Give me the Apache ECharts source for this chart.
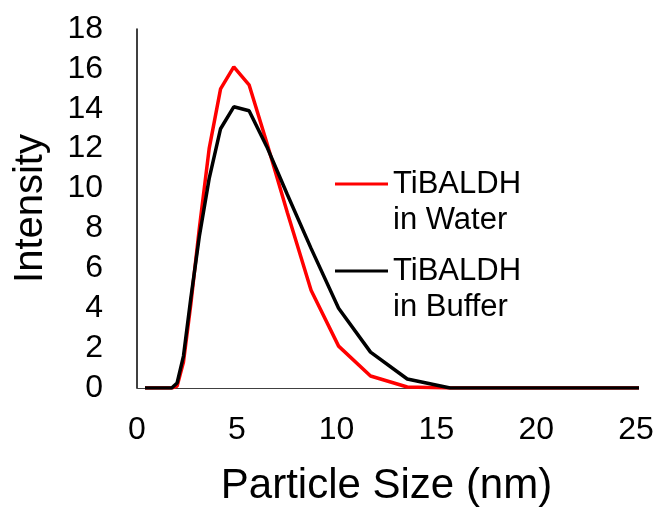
<!DOCTYPE html>
<html>
<head>
<meta charset="utf-8">
<script src="https://cdn.jsdelivr.net/npm/echarts@6/dist/echarts.min.js"></script>
<style>
  html, body { margin: 0; padding: 0; background: #fff; }
  #main { width: 662px; height: 512px; }
</style>
</head>
<body>
<div id="main"></div>
<script>
// particle size bins (nm)
var sizes = [0.4, 0.4632, 0.5365, 0.6213, 0.7195, 0.8332, 0.9649, 1.117, 1.294, 1.499,
  1.736, 2.01, 2.328, 2.696, 3.122, 3.615, 4.187, 4.849, 5.615, 6.503,
  7.531, 8.721, 10.1, 11.7, 13.54, 15.69, 18.17, 21.04, 24.36, 28.21];
// intensity values
var water = [0, 0, 0, 0, 0, 0, 0, 0, 0, 0,
  0, 0.1, 1.3, 4.2, 8.0, 12.0, 15.0, 16.1, 15.2, 12.3,
  8.8, 4.9, 2.1, 0.6, 0.05, 0, 0, 0, 0, 0];
var buffer = [0, 0, 0, 0, 0, 0, 0, 0, 0, 0,
  0, 0.25, 1.6, 4.5, 7.6, 10.5, 13.0, 14.1, 13.9, 12.1,
  9.7, 7.0, 4.0, 1.8, 0.45, 0, 0, 0, 0, 0];
var seriesNames = ['TiBALDH\nin Water', 'TiBALDH\nin Buffer'];

function pairs(ys) {
  return sizes.map(function (x, i) { return [x, ys[i]]; });
}

var font = 'Liberation Sans, Arial, sans-serif';
var myChart = echarts.init(document.getElementById('main'));

// one legend per series so the line sits beside the first text line
function legendAt(name, top) {
  return {
    data: [name],
    left: 335,
    top: top,
    padding: 0,
    icon: 'rect',
    itemWidth: 53,
    itemHeight: 3,
    itemTextGap: 6,
    selectedMode: false,
    formatter: function (n) { return ' \n' + n; },
    textStyle: {
      fontFamily: font,
      fontSize: 31,
      lineHeight: 36,
      color: '#000'
    }
  };
}

option = {
  backgroundColor: '#fff',
  animation: false,
  grid: { left: 137, right: 26, top: 29, bottom: 124, containLabel: false, outerBoundsMode: 'none' },
  legend: [legendAt(seriesNames[0], 130), legendAt(seriesNames[1], 217)],
  xAxis: {
    type: 'value',
    min: 0,
    max: 25,
    interval: 5,
    name: 'Particle Size (nm)',
    nameLocation: 'middle',
    nameGap: 77,
    nameTextStyle: { fontFamily: font, fontSize: 42, color: '#000' },
    axisLine: { show: true, onZero: false, lineStyle: { color: '#404040', width: 1 } },
    axisTick: { show: false },
    splitLine: { show: false },
    axisLabel: { fontFamily: font, fontSize: 32, color: '#000', margin: 26 }
  },
  yAxis: {
    type: 'value',
    min: 0,
    max: 18,
    interval: 2,
    name: 'Intensity',
    nameLocation: 'middle',
    nameGap: 86,
    nameTextStyle: { fontFamily: font, fontSize: 40, color: '#000' },
    axisLine: { show: true, lineStyle: { color: '#000', width: 1.5 } },
    axisTick: { show: false },
    splitLine: { show: false },
    axisLabel: { fontFamily: font, fontSize: 32, color: '#000', margin: 34 }
  },
  series: [
    {
      name: seriesNames[0],
      type: 'line',
      data: pairs(water),
      symbol: 'none',
      clip: true,
      color: '#ff0000',
      lineStyle: { color: '#ff0000', width: 3.5 }
    },
    {
      name: seriesNames[1],
      type: 'line',
      data: pairs(buffer),
      symbol: 'none',
      clip: true,
      color: '#000000',
      lineStyle: { color: '#000000', width: 3.5 }
    }
  ]
};

myChart.setOption(option);
</script>
</body>
</html>
